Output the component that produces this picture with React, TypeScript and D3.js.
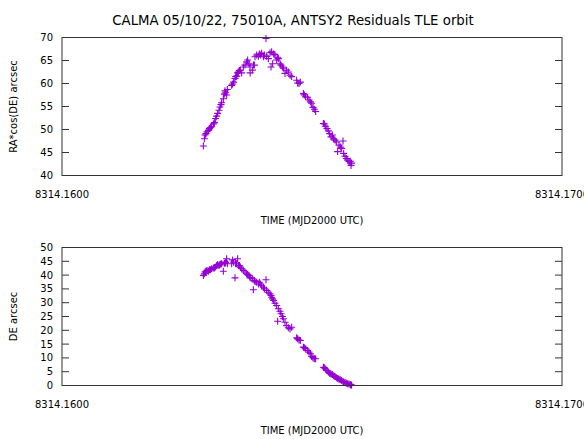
import React from "react";
import * as d3 from "d3";

const TITLE = "CALMA 05/10/22, 75010A, ANTSY2 Residuals TLE orbit";
const X_LABEL = "TIME (MJD2000 UTC)";
const Y1_LABEL = "RA*cos(DE) arcsec";
const Y2_LABEL = "DE arcsec";
const X_DOMAIN = [8314.16, 8314.17];
const X_TICKS = [8314.16, 8314.17];
const Y1_DOMAIN = [40, 70];
const Y1_TICKS = [40, 45, 50, 55, 60, 65, 70];
const Y2_DOMAIN = [0, 50];
const Y2_TICKS = [0, 5, 10, 15, 20, 25, 30, 35, 40, 45, 50];

const TIME = [
  8314.162827, 8314.162847, 8314.16286, 8314.16288, 8314.1629, 8314.162927, 8314.162947, 8314.162967,
  8314.162993, 8314.163027, 8314.163047, 8314.163073, 8314.163093, 8314.163113, 8314.16314, 8314.16316,
  8314.16318, 8314.163193, 8314.163227, 8314.163247, 8314.16326, 8314.163273, 8314.163293, 8314.163307,
  8314.163393, 8314.163413, 8314.163433, 8314.16346, 8314.163473, 8314.163493, 8314.163513, 8314.163527,
  8314.163547, 8314.163567, 8314.163593, 8314.163627, 8314.16366, 8314.163693, 8314.163713, 8314.16374,
  8314.16376, 8314.163763, 8314.163807, 8314.163827, 8314.163847, 8314.16386, 8314.163893, 8314.163927,
  8314.163947, 8314.163973, 8314.163993, 8314.164027, 8314.164047, 8314.16408, 8314.164093, 8314.164127,
  8314.16416, 8314.16418, 8314.164193, 8314.164213, 8314.164233, 8314.16426, 8314.164293, 8314.164313,
  8314.164327, 8314.16436, 8314.16438, 8314.164407, 8314.164427, 8314.16446, 8314.164493, 8314.164527,
  8314.16456, 8314.164593, 8314.164693, 8314.164713, 8314.16474, 8314.164767, 8314.164827, 8314.164847,
  8314.164873, 8314.164913, 8314.16494, 8314.164967, 8314.164993, 8314.16502, 8314.165047, 8314.165073,
  8314.165227, 8314.165247, 8314.165273, 8314.1653, 8314.165327, 8314.165353, 8314.16538, 8314.165407,
  8314.165433, 8314.16546, 8314.165487, 8314.165513, 8314.16554, 8314.165567, 8314.165593, 8314.16562,
  8314.165633, 8314.16566, 8314.165687, 8314.165713, 8314.16574, 8314.165767, 8314.16578, 8314.165793,
];

const RA_RES = [
  46.4, 48.0, 48.8, 49.1, 49.5, 49.8, 50.2, 50.4,
  50.6, 51.2, 51.5, 52.4, 52.9, 53.5, 54.2, 54.9,
  55.4, 55.8, 56.7, 57.7, 58.4, 58.0, 57.5, 58.7,
  59.6, 59.9, 60.3, 61.1, 61.5, 61.6, 62.3, 62.5,
  62.8, 62.9, 62.3, 63.6, 64.0, 64.7, 65.1, 64.3,
  63.6, 62.3, 62.9, 64.0, 64.0, 65.8, 66.2, 65.9,
  66.4, 66.2, 66.6, 65.8, 66.2, 69.8, 65.9, 65.4,
  66.7, 63.6, 66.9, 64.3, 66.4, 66.2, 65.1, 65.7,
  65.4, 64.3, 64.0, 63.6, 63.3, 62.2, 62.9, 62.5,
  61.8, 61.5, 60.7, 60.1, 60.0, 60.3, 57.8, 57.5,
  57.1, 57.0, 56.4, 56.0, 55.7, 54.8, 54.4, 53.9,
  51.3, 51.2, 50.7, 50.2, 49.7, 49.1, 48.4, 48.8,
  48.0, 47.7, 47.3, 45.2, 46.6, 46.2, 45.9, 47.5,
  44.8, 44.2, 43.7, 43.3, 43.0, 43.1, 42.2, 42.7,
];

const DE_RES = [
  39.9, 40.5, 41.1, 41.4, 41.7, 41.4, 41.9, 41.9,
  42.3, 42.6, 42.6, 42.9, 43.5, 43.8, 43.5, 43.8,
  44.1, 44.1, 41.4, 44.3, 44.3, 44.7, 45.9, 44.1,
  44.1, 45.5, 44.7, 39.0, 44.1, 44.1, 45.9, 43.5,
  43.5, 42.9, 42.3, 41.7, 41.1, 40.5, 40.2, 39.9,
  39.3, 39.0, 38.6, 34.7, 38.0, 37.7, 37.4, 36.8,
  37.4, 36.8, 36.2, 35.6, 35.0, 38.3, 34.4, 33.8,
  33.2, 32.6, 32.0, 31.4, 30.8, 29.8, 29.0, 23.3,
  27.8, 26.9, 26.0, 25.0, 24.2, 22.9, 21.7, 20.9,
  20.5, 21.1, 17.3, 16.9, 16.5, 16.3, 13.9, 13.7,
  13.3, 12.7, 12.1, 11.5, 10.5, 10.0, 9.7, 9.7,
  6.6, 6.4, 6.0, 5.4, 4.8, 4.4, 4.2, 4.0,
  3.5, 3.3, 2.8, 2.5, 2.3, 2.1, 1.8, 1.4,
  1.3, 1.1, 0.8, 0.6, 0.5, 0.4, 0.1, 0.2,
];

const W = 584;
const H = 439;
const LEFT = 62;
const RIGHT = 562;
const FONT = "DejaVu Sans, Verdana, sans-serif";
const COLOR = "#9400d3";

type PanelProps = {
  top: number;
  bottom: number;
  yDomain: number[];
  yTicks: number[];
  values: number[];
  yLabel: string;
};

function Panel({ top, bottom, yDomain, yTicks, values, yLabel }: PanelProps) {
  const x = d3.scaleLinear().domain(X_DOMAIN).range([LEFT, RIGHT]);
  const y = d3.scaleLinear().domain(yDomain).range([bottom, top]);
  const fmtX = d3.format(".4f");
  const s = 3.5;
  const path = TIME.map((t, i) => {
    const px = x(t);
    const py = y(values[i]);
    return `M${px - s},${py}H${px + s}M${px},${py - s}V${py + s}`;
  }).join("");
  return (
    <g>
      <path d={path} stroke={COLOR} strokeWidth={1.1} fill="none" />
      {yTicks.map((v) => (
        <g key={v}>
          <line x1={LEFT} x2={LEFT + 7} y1={y(v)} y2={y(v)} stroke="#333" />
          <line x1={RIGHT - 7} x2={RIGHT} y1={y(v)} y2={y(v)} stroke="#333" />
          <text x={53} y={y(v)} dy="0.35em" textAnchor="end" fontSize={10} fontFamily={FONT} fill="#000">
            {v}
          </text>
        </g>
      ))}
      <rect x={LEFT} y={top} width={RIGHT - LEFT} height={bottom - top} fill="none" stroke="#333" strokeWidth={1} />
      {X_TICKS.map((t) => (
        <text key={t} x={x(t)} y={bottom + 22} textAnchor="middle" fontSize={10} fontFamily={FONT} fill="#000">
          {fmtX(t)}
        </text>
      ))}
      <text x={(LEFT + RIGHT) / 2} y={bottom + 48} textAnchor="middle" fontSize={10} fontFamily={FONT} fill="#000">
        {X_LABEL}
      </text>
      <text
        transform={`translate(${13},${(top + bottom) / 2}) rotate(-90)`}
        dy="0.35em"
        textAnchor="middle"
        fontSize={10}
        fontFamily={FONT}
        fill="#000"
      >
        {yLabel}
      </text>
    </g>
  );
}

export default function App() {
  return (
    <svg
      width={W}
      height={H}
      viewBox={`0 0 ${W} ${H}`}
      style={{ position: "absolute", left: 0, top: 0, background: "#fff" }}
    >
      <rect width={W} height={H} fill="#fff" />
      <text x={293} y={25} textAnchor="middle" fontSize={13.3} fontFamily={FONT} fill="#000">
        {TITLE}
      </text>
      <Panel top={37.5} bottom={175.5} yDomain={Y1_DOMAIN} yTicks={Y1_TICKS} values={RA_RES} yLabel={Y1_LABEL} />
      <Panel top={247.5} bottom={385.5} yDomain={Y2_DOMAIN} yTicks={Y2_TICKS} values={DE_RES} yLabel={Y2_LABEL} />
    </svg>
  );
}
